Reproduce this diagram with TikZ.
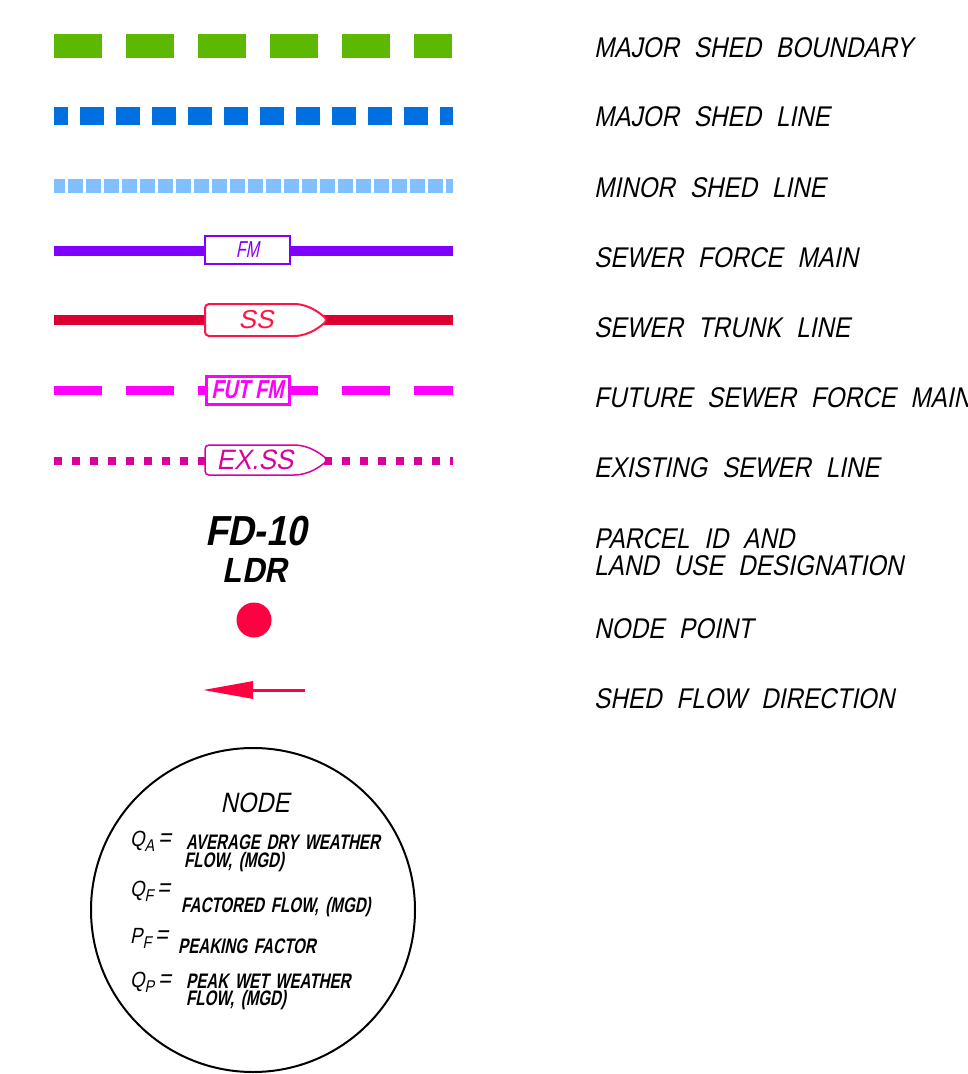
\documentclass[tikz,border=0pt]{standalone}
\usepackage{fontspec}
\usepackage{tikz}
\usetikzlibrary{arrows.meta,positioning,calc}
\newfontfamily\cadfont[FakeStretch=0.85,FakeSlant=0.2,WordSpace=2.2]{Liberation Sans}
\newfontfamily\cadnarrow[FakeStretch=0.72,FakeSlant=0.2,WordSpace=1.6]{Liberation Sans}
\newfontfamily\cadtag[FakeSlant=0.2]{Liberation Sans}
\newcommand*{\lsub}[1]{\raisebox{-5pt}{\fontsize{17}{17}\selectfont #1}}
\definecolor{shedgreen}{RGB}{92,184,0}
\definecolor{shedblue}{RGB}{0,112,224}
\definecolor{minorblue}{RGB}{128,192,255}
\definecolor{fmpurple}{RGB}{128,0,255}
\definecolor{trunkred}{RGB}{220,0,50}
\definecolor{tagred}{RGB}{255,20,70}
\definecolor{futmagenta}{RGB}{255,0,255}
\definecolor{expink}{RGB}{218,0,160}
\definecolor{pointred}{RGB}{255,0,64}
\tikzstyle{legtext}=[anchor=base west,inner sep=0pt,font=\cadfont\fontsize{28.5}{28}\selectfont]
\tikzstyle{bodytext}=[anchor=base west,inner sep=0pt,font=\cadnarrow\bfseries\fontsize{21}{21}\selectfont]
\tikzstyle{symtext}=[anchor=base west,inner sep=0pt,font=\cadfont\fontsize{22}{22}\selectfont]
\tikzstyle{shedbnd}=[shedgreen,line width=24pt,dash pattern=on 48pt off 24pt]
\tikzstyle{shedmaj}=[shedblue,line width=18pt,dash pattern=on 24pt off 12pt,dash phase=10pt]
\tikzstyle{shedmin}=[minorblue,line width=14pt,dash pattern=on 14.7pt off 3.3pt,dash phase=4pt]
\tikzstyle{forcemain}=[fmpurple,line width=10pt]
\tikzstyle{trunk}=[trunkred,line width=10pt]
\tikzstyle{futmain}=[futmagenta,line width=9pt,dash pattern=on 48pt off 24pt]
\tikzstyle{exsewer}=[expink,line width=8pt,dash pattern=on 8pt off 10pt]
\begin{document}
\begin{tikzpicture}[x=1pt,y=-1pt]
    \useasboundingbox (0,0) rectangle (967,1074);
    % line ends
    \coordinate (bnd-l) at (54,46);   \coordinate (bnd-r) at (452,46);
    \coordinate (maj-l) at (54,116);  \coordinate (maj-r) at (453,116);
    \coordinate (min-l) at (54,186);  \coordinate (min-r) at (453,186);
    \coordinate (fm-l) at (54,251);   \coordinate (fm-r) at (453,251);
    \coordinate (ss-l) at (54,320);   \coordinate (ss-r) at (453,320);
    \coordinate (fut-l) at (54,390);  \coordinate (fut-r) at (453,390);
    \coordinate (ex-l) at (54,461);   \coordinate (ex-r) at (453,461);
    \draw[shedbnd] (bnd-l) -- (bnd-r);
    \draw[shedmaj] (maj-l) -- (maj-r);
    \draw[shedmin] (min-l) -- (min-r);
    \draw[forcemain] (fm-l) -- (fm-r);
    \node[draw=fmpurple,line width=1.5pt,fill=white,minimum width=85pt,minimum height=28pt,inner sep=0pt,
          text=fmpurple,font=\cadtag\addfontfeature{FakeStretch=0.7}\fontsize{23}{23}\selectfont] (fmtag) at (247.5,250) {FM};
    \draw[trunk] (ss-l) -- (ss-r);
    \begin{scope}[shift={(205,320)}]
        \draw[tagred,line width=2pt,fill=white,rounded corners=4pt] (0,0) -- (0,-16) -- (85,-16)
            .. controls (105,-16) and (117,-5) .. (123,0) .. controls (117,5) and (105,16) .. (85,16) -- (0,16) -- cycle;
        \node[text=tagred,inner sep=0pt,font=\cadtag\fontsize{26}{26}\selectfont] (sstag) at (51,0) {SS};
    \end{scope}
    \draw[futmain] (fut-l) -- (fut-r);
    \node[draw=futmagenta,line width=3pt,fill=white,minimum width=83pt,minimum height=28pt,inner sep=0pt,
          text=futmagenta,font=\cadtag\addfontfeature{FakeStretch=0.76}\bfseries\fontsize{26}{26}\selectfont] (futtag) at (247.5,390) {FUT FM};
    \draw[exsewer] (ex-l) -- (ex-r);
    \begin{scope}[shift={(205,460)}]
        \draw[expink,line width=1.5pt,fill=white,rounded corners=4pt] (0,0) -- (0,-15) -- (85,-15)
            .. controls (105,-15) and (117,-5) .. (123,0) .. controls (117,5) and (105,15) .. (85,15) -- (0,15) -- cycle;
        \node[text=expink,inner sep=0pt,font=\cadtag\addfontfeature{FakeStretch=0.93}\fontsize{28}{28}\selectfont] (extag) at (50,0) {EX.SS};
    \end{scope}
    % parcel, node point, flow
    \node[anchor=base,inner sep=0pt,font=\cadtag\addfontfeature{FakeStretch=0.87}\bfseries\fontsize{42}{42}\selectfont] (parcel) at (256,545) {FD-10};
    \node[anchor=base,inner sep=0pt,font=\cadtag\addfontfeature{FakeStretch=0.89}\bfseries\fontsize{35}{35}\selectfont] (landuse) at (255,582) {LDR};
    \node[circle,fill=pointred,minimum size=35pt,inner sep=0pt] (npoint) at (254,620) {};
    \coordinate (flow-s) at (305,690);
    \coordinate (flow-e) at (203,690);
    \draw[pointred,line width=3pt,-{Triangle[length=50pt,width=17pt]}] (flow-s) -- (flow-e);
    % legend circle
    \node[draw,circle,line width=2pt,minimum size=324pt,inner sep=0pt] (legend) at (253,910) {};
    \node[anchor=base,inner sep=0pt,font=\cadfont\fontsize{28}{28}\selectfont] (nodettl) at (255,812) {NODE};
    \node[symtext] (qa) at (130,846) {Q\lsub{A}\,\fontsize{26}{26}\selectfont=};
    \node[bodytext] (qa1) at (186,849) {AVERAGE DRY WEATHER};
    \node[bodytext] (qa2) at (184,867) {FLOW, (MGD)};
    \node[symtext] (qf) at (130,896) {Q\lsub{F}\,\fontsize{26}{26}\selectfont=};
    \node[bodytext] (qf1) at (181,912) {FACTORED FLOW, (MGD)};
    \node[symtext] (pf) at (130,943) {P\lsub{F}\,\fontsize{26}{26}\selectfont=};
    \node[bodytext] (pf1) at (178,953) {PEAKING FACTOR};
    \node[symtext] (qp) at (130,987) {Q\lsub{P}\,\fontsize{26}{26}\selectfont=};
    \node[bodytext] (qp1) at (186,988) {PEAK WET WEATHER};
    \node[bodytext] (qp2) at (186,1005) {FLOW, (MGD)};
    % labels
    \node[legtext] (lbl-bnd) at (594,57) {MAJOR SHED BOUNDARY};
    \node[legtext] (lbl-maj) at (594,126) {MAJOR SHED LINE};
    \node[legtext] (lbl-min) at (594,197) {MINOR SHED LINE};
    \node[legtext] (lbl-fm) at (594,267) {SEWER FORCE MAIN};
    \node[legtext] (lbl-ss) at (594,337) {SEWER TRUNK LINE};
    \node[legtext] (lbl-fut) at (594,407) {FUTURE SEWER FORCE MAIN};
    \node[legtext] (lbl-ex) at (594,477) {EXISTING SEWER LINE};
    \node[legtext] (lbl-pid) at (594,548) {PARCEL ID AND};
    \node[legtext] (lbl-lu) at (594,575) {LAND USE DESIGNATION};
    \node[legtext] (lbl-np) at (594,638) {NODE POINT};
    \node[legtext] (lbl-flow) at (594,708) {SHED FLOW DIRECTION};
\end{tikzpicture}
\end{document}
